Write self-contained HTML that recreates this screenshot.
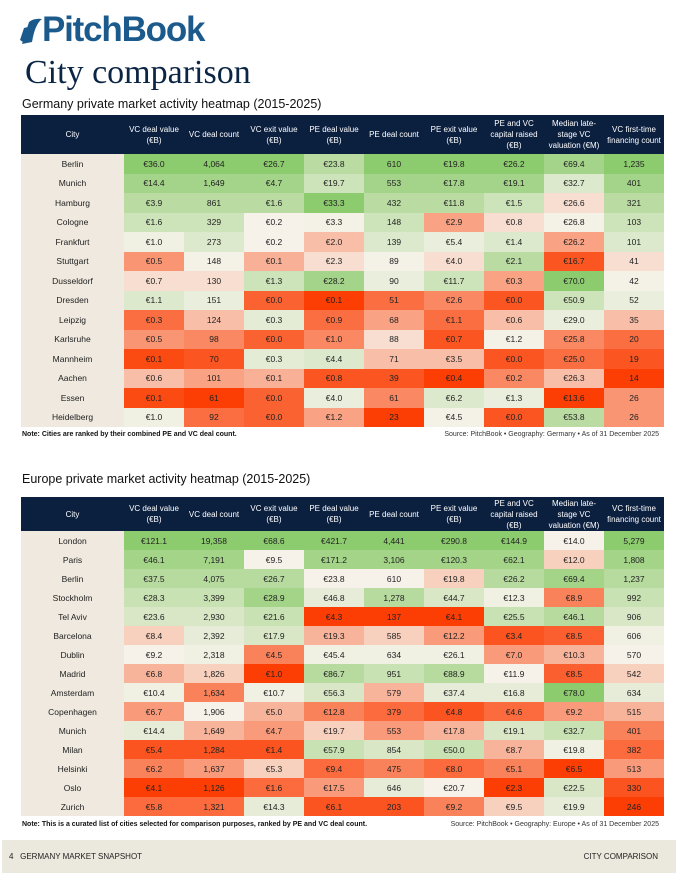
<!DOCTYPE html>
<html><head><meta charset="utf-8">
<style>
*{margin:0;padding:0;box-sizing:border-box}
body{width:680px;height:880px;background:#fff;position:relative;overflow:hidden;font-family:"Liberation Sans",sans-serif;color:#1a1a1a}
.abs{position:absolute}
.logo{left:20px;top:10px;font-size:35px;font-weight:bold;color:#1d5a8c;letter-spacing:-1.2px}
.title{left:25px;top:54px;font-family:"Liberation Serif",serif;font-size:34px;color:#0b2545}
.sub{left:22px;font-size:12.5px;color:#111}
.tbl{left:21px;width:643px}
.hdr{position:absolute;left:0;top:0;height:100%;background:#0b1f3f}
.hc{position:absolute;color:#fff;font-size:8px;line-height:11px;text-align:center;display:flex;align-items:center;justify-content:center}
.cell{position:absolute;font-size:8.5px;display:flex;align-items:center;justify-content:center;color:#222}
.note{font-size:7px;font-weight:bold;color:#111}
.src{font-size:7px;color:#333;text-align:right}
.footer{left:2px;top:840px;width:674px;height:33px;background:#ebe8dd;font-size:8px;color:#222}
</style></head><body>
<div class="abs logo"><svg width="22" height="26" viewBox="0 0 22 26" style="vertical-align:-3px"><path d="M2 26 L9 4 Q14 0 22 1 Q15 6 12 24 Z" fill="#1d5a8c"/><path d="M0 22 L4 10 L8 9 L3 24 Z" fill="#1d5a8c"/></svg>PitchBook</div>
<div class="abs title">City comparison</div>
<div class="abs sub" style="top:97px">Germany private market activity heatmap (2015-2025)</div>
<div class="abs tbl" id="t1" style="top:115px;height:312px"></div>
<div class="abs note" style="left:22px;top:431px">Note: Cities are ranked by their combined PE and VC deal count.</div>
<div class="abs src" style="right:21px;top:431px">Source: PitchBook • Geography: Germany • As of 31 December 2025</div>
<div class="abs sub" style="top:472px">Europe private market activity heatmap (2015-2025)</div>
<div class="abs tbl" id="t2" style="top:497px;height:319px"></div>
<div class="abs note" style="left:22px;top:821px">Note: This is a curated list of cities selected for comparison purposes, ranked by PE and VC deal count.</div>
<div class="abs src" style="right:21px;top:821px">Source: PitchBook • Geography: Europe • As of 31 December 2025</div>
<div class="abs footer">
<span class="abs" style="left:7px;top:12px">4&nbsp;&nbsp;&nbsp;GERMANY MARKET SNAPSHOT</span>
<span class="abs" style="right:18px;top:12px">CITY COMPARISON</span>
</div>
<script>
const headers = ["City","VC deal value<br>(€B)","VC deal count","VC exit value<br>(€B)","PE deal value<br>(€B)","PE deal count","PE exit value<br>(€B)","PE and VC<br>capital raised<br>(€B)","Median late-<br>stage VC<br>valuation (€M)","VC first-time<br>financing count"];
const colKinds = ["eur","cnt","eur","eur","cnt","eur","eur","eur","cnt"];
const germanyCities = ["Berlin","Munich","Hamburg","Cologne","Frankfurt","Stuttgart","Dusseldorf","Dresden","Leipzig","Karlsruhe","Mannheim","Aachen","Essen","Heidelberg"];
const germanyValues = [
[36.0,4064,26.7,23.8,610,19.8,26.2,69.4,1235],
[14.4,1649,4.7,19.7,553,17.8,19.1,32.7,401],
[3.9,861,1.6,33.3,432,11.8,1.5,26.6,321],
[1.6,329,0.2,3.3,148,2.9,0.8,26.8,103],
[1.0,273,0.2,2.0,139,5.4,1.4,26.2,101],
[0.5,148,0.1,2.3,89,4.0,2.1,16.7,41],
[0.7,130,1.3,28.2,90,11.7,0.3,70.0,42],
[1.1,151,0.0,0.1,51,2.6,0.0,50.9,52],
[0.3,124,0.3,0.9,68,1.1,0.6,29.0,35],
[0.5,98,0.0,1.0,88,0.7,1.2,25.8,20],
[0.1,70,0.3,4.4,71,3.5,0.0,25.0,19],
[0.6,101,0.1,0.8,39,0.4,0.2,26.3,14],
[0.1,61,0.0,4.0,61,6.2,1.3,13.6,26],
[1.0,92,0.0,1.2,23,4.5,0.0,53.8,26]];
const europeCities = ["London","Paris","Berlin","Stockholm","Tel Aviv","Barcelona","Dublin","Madrid","Amsterdam","Copenhagen","Munich","Milan","Helsinki","Oslo","Zurich"];
const europeValues = [
[121.1,19358,68.6,421.7,4441,290.8,144.9,14.0,5279],
[46.1,7191,9.5,171.2,3106,120.3,62.1,12.0,1808],
[37.5,4075,26.7,23.8,610,19.8,26.2,69.4,1237],
[28.3,3399,28.9,46.8,1278,44.7,12.3,8.9,992],
[23.6,2930,21.6,4.3,137,4.1,25.5,46.1,906],
[8.4,2392,17.9,19.3,585,12.2,3.4,8.5,606],
[9.2,2318,4.5,45.4,634,26.1,7.0,10.3,570],
[6.8,1826,1.0,86.7,951,88.9,11.9,8.5,542],
[10.4,1634,10.7,56.3,579,37.4,16.8,78.0,634],
[6.7,1906,5.0,12.8,379,4.8,4.6,9.2,515],
[14.4,1649,4.7,19.7,553,17.8,19.1,32.7,401],
[5.4,1284,1.4,57.9,854,50.0,8.7,19.8,382],
[6.2,1637,5.3,9.4,475,8.0,5.1,6.5,513],
[4.1,1126,1.6,17.5,646,20.7,2.3,22.5,330],
[5.8,1321,14.3,6.1,203,9.2,9.5,19.9,246]];

function mix(a,b,t){return a.map((v,i)=>Math.round(v+(b[i]-v)*t));}
const WHITE=[246,242,234], GREEN=[141,204,110], RED=[252,62,4];
function pct(col,v){let lo=0,eq=0;col.forEach(x=>{if(x<v)lo++;else if(x===v)eq++;});return (lo+(eq-1)/2)/(col.length-1);}
function colorFor(col,v){const p=pct(col,v);let c;if(p>=0.5)c=mix(WHITE,GREEN,Math.pow(Math.min(1,(p-0.5)*2),1.5));else c=mix(WHITE,RED,Math.pow(Math.min(1,(0.5-p)*2),0.85));return 'rgb('+c.join(',')+')';}
function fmt(v,k){if(k==='eur')return '€'+v.toFixed(1);return v.toLocaleString('en-US');}

function build(id,cities,vals,hh,rh){
  const root=document.getElementById(id);
  const cw=[103,60,60,60,60,60,60,60,60,60];
  const hdr=document.createElement('div');hdr.className='hdr';hdr.style.width='643px';hdr.style.height=hh+'px';
  
  
  root.appendChild(hdr);
  let x=0;
  headers.forEach((h,i)=>{const d=document.createElement('div');d.className='hc';d.style.left=x+'px';d.style.top='0';d.style.width=cw[i]+'px';d.style.height=hh+'px';d.innerHTML=h;
    
    
    root.appendChild(d);x+=cw[i];});
  const bg=document.createElement('div');bg.className='cell';bg.style.left='0';bg.style.top=hh+'px';bg.style.width='103px';bg.style.height=(rh*cities.length)+'px';bg.style.background='#efe9df';
  
  
  root.appendChild(bg);
  cities.forEach((c,r)=>{
    const y=hh+r*rh;
    const cd=document.createElement('div');cd.className='cell';cd.style.left='0';cd.style.top=y+'px';cd.style.width='103px';cd.style.height=rh+'px';cd.textContent=c;
    
    
    root.appendChild(cd);
    let xx=103;
    vals[r].forEach((v,j)=>{
      const col=vals.map(row=>row[j]);
      const d=document.createElement('div');d.className='cell';d.style.left=xx+'px';d.style.top=y+'px';d.style.width='60px';d.style.height=rh+'px';
      d.style.background=colorFor(col,v);d.textContent=fmt(v,colKinds[j]);
      
      
      root.appendChild(d);xx+=60;});
  });
}
build('t1',germanyCities,germanyValues,39,19.5);
build('t2',europeCities,europeValues,34,19);
</script>
</body></html>
